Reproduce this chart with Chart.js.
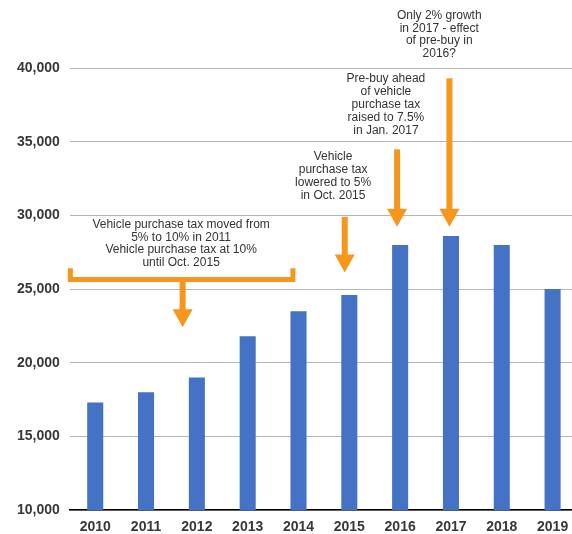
<!DOCTYPE html>
<html>
<head>
<meta charset="utf-8">
<script src="https://cdn.jsdelivr.net/npm/chart.js@4/dist/chart.umd.min.js"></script>
<style>
  html, body { margin: 0; padding: 0; background: #fff; overflow: hidden; }
</style>
</head>
<body>
<canvas id="salesChart" width="578" height="545"></canvas>
<script>
// Yearly vehicle sales
const years = ["2010", "2011", "2012", "2013", "2014", "2015", "2016", "2017", "2018", "2019"];
const sales = [17300, 18000, 19000, 21800, 23500, 24600, 28000, 28600, 28000, 25000];
const yMin = 10000;
const yMax = 40000;
const yStep = 5000;

// Callout texts
const bracketNote = ["Vehicle purchase tax moved from", "5% to 10% in 2011", "Vehicle purchase tax at 10%", "until Oct. 2015"];
const note2015 = ["Vehicle", "purchase tax", "lowered to 5%", "in Oct. 2015"];
const note2016 = ["Pre-buy ahead", "of vehicle", "purchase tax", "raised to 7.5%", "in Jan. 2017"];
const note2017 = ["Only 2% growth", "in 2017 - effect", "of pre-buy in", "2016?"];

const ORANGE = "#f7961d";
const TEXT = "#333";

function drawArrow(ctx, x, yTop, yTip) {
  const head = 18, half = 10, shaft = 6;
  ctx.fillStyle = ORANGE;
  ctx.fillRect(x - shaft / 2, yTop, shaft, yTip - head - yTop + 1);
  ctx.beginPath();
  ctx.moveTo(x - half, yTip - head);
  ctx.lineTo(x + half, yTip - head);
  ctx.lineTo(x, yTip);
  ctx.closePath();
  ctx.fill();
}

function drawLines(ctx, lines, x, y, lh) {
  ctx.fillStyle = TEXT;
  ctx.font = "12px 'Liberation Sans', Arial, sans-serif";
  ctx.textAlign = "center";
  ctx.textBaseline = "middle";
  lines.forEach((l, i) => ctx.fillText(l, x, y + i * lh));
}

// annotations are placed in data space (category index, value)
const calloutPlugin = {
  id: "callouts",
  afterDatasetsDraw(chart) {
    const ctx = chart.ctx;
    const xs = chart.scales.x, ys = chart.scales.y;
    const px = i => xs.getPixelForValue(i);
    const py = v => ys.getPixelForValue(v);
    ctx.save();

    // bracket over 2010-2014
    ctx.strokeStyle = ORANGE;
    ctx.lineWidth = 5;
    ctx.lineJoin = "miter";
    ctx.beginPath();
    ctx.moveTo(px(-0.49), py(26420));
    ctx.lineTo(px(-0.49), py(25650));
    ctx.lineTo(px(3.89), py(25650));
    ctx.lineTo(px(3.89), py(26420));
    ctx.stroke();
    drawArrow(ctx, px(1.72), py(25650), py(22420));
    drawLines(ctx, bracketNote, px(1.69), py(29340), 12.5);

    // single arrows
    drawArrow(ctx, px(4.91), py(29900), py(26120));
    drawLines(ctx, note2015, px(4.68), py(33980), 13);

    drawArrow(ctx, px(5.94), py(34480), py(29230));
    drawLines(ctx, note2016, px(5.72), py(39250), 13);

    drawArrow(ctx, px(6.97), py(39300), py(29230));
    drawLines(ctx, note2017, px(6.77), py(43550), 12.7);

    ctx.restore();
  }
};

const ctx = document.getElementById("salesChart").getContext("2d");
new Chart(ctx, {
  type: "bar",
  data: {
    labels: years,
    datasets: [{
      data: sales,
      backgroundColor: "#4472c4",
      barPercentage: 0.316,
      categoryPercentage: 1.0,
    }],
  },
  options: {
    responsive: false,
    animation: false,
    layout: { padding: { left: 7, top: 68, right: 0, bottom: 0 } },
    plugins: {
      legend: { display: false },
      tooltip: { enabled: false },
    },
    scales: {
      x: {
        grid: { display: false, drawTicks: false },
        border: { color: "#000", width: 1.5 },
        ticks: {
          color: "#383838",
          padding: 9,
          font: { family: "'Liberation Sans', Arial, sans-serif", size: 14, weight: "bold" },
        },
      },
      y: {
        min: yMin,
        max: yMax,
        grid: { color: "#b5b5b5", drawTicks: false },
        border: { display: false },
        ticks: {
          stepSize: yStep,
          color: "#383838",
          padding: 10,
          font: { family: "'Liberation Sans', Arial, sans-serif", size: 14, weight: "bold" },
        },
      },
    },
  },
  plugins: [calloutPlugin],
});
</script>
</body>
</html>
